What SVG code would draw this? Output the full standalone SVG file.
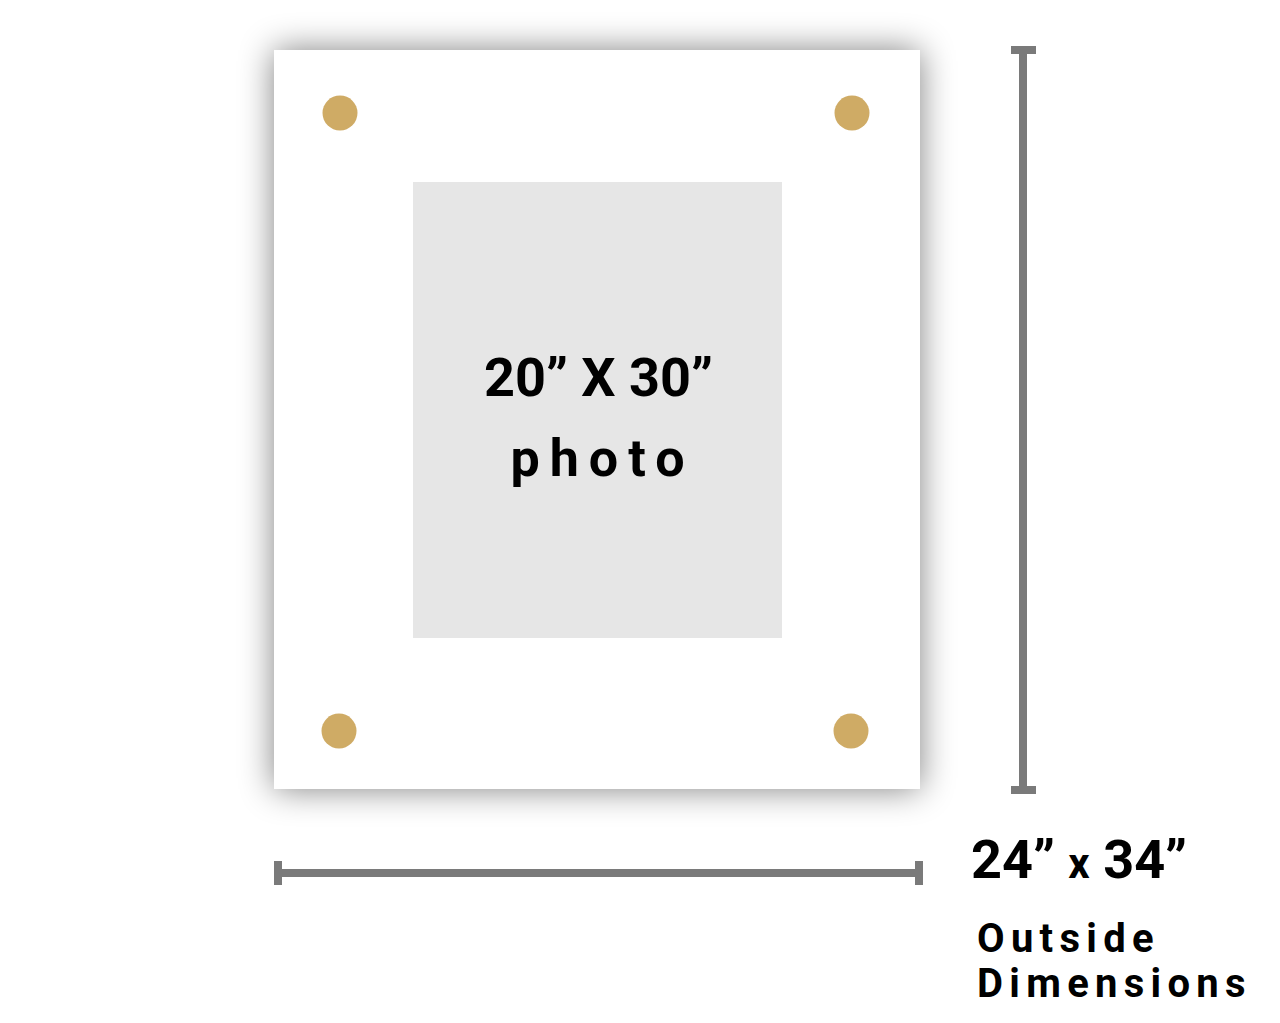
<svg xmlns="http://www.w3.org/2000/svg" width="1280" height="1023" viewBox="0 0 1280 1023">
<defs>
<filter id="sh" x="-20%" y="-20%" width="140%" height="140%">
<feGaussianBlur in="SourceAlpha" stdDeviation="17"/>
<feOffset dx="0" dy="0"/>
<feComponentTransfer><feFuncA type="linear" slope="0.5"/></feComponentTransfer>
<feMerge><feMergeNode/><feMergeNode in="SourceGraphic"/></feMerge>
</filter>
</defs>
<style>
.dot{fill:#cfab65}
.bar{fill:#7a7a7a}
.t{font-family:Roboto,"Liberation Sans",sans-serif;font-weight:bold;fill:#000}
</style>
<rect width="1280" height="1023" fill="#fff"/>
<g id="panel">
<rect x="274" y="50" width="646" height="739" fill="#fff" filter="url(#sh)"/>
<circle class="dot" cx="340" cy="113" r="17.5"/>
<circle class="dot" cx="852" cy="113" r="17.5"/>
<circle class="dot" cx="339" cy="731" r="17.5"/>
<circle class="dot" cx="851" cy="731" r="17.5"/>
</g>
<g id="photo">
<rect x="413" y="182" width="369" height="456" fill="#e6e6e6"/>
<text class="t" x="598.5" y="396" font-size="54" text-anchor="middle">20” X 30”</text>
<text class="t" x="602.5" y="476" font-size="52" text-anchor="middle" letter-spacing="10">photo</text>
</g>
<g id="dimensions">
<rect class="bar" x="1019" y="50" width="8" height="740"/>
<rect class="bar" x="1011" y="46" width="25" height="8"/>
<rect class="bar" x="1011" y="786" width="25" height="8"/>
<rect class="bar" x="278" y="869" width="642" height="8"/>
<rect class="bar" x="274" y="861" width="8" height="24"/>
<rect class="bar" x="915" y="861" width="8" height="24"/>
<text class="t" x="971" y="878" font-size="54">24” <tspan font-size="42">x</tspan> 34”</text>
<text class="t" x="977" y="952" font-size="40" letter-spacing="6.3">Outside</text>
<text class="t" x="977" y="997" font-size="40" letter-spacing="6.3">Dimensions</text>
</g>
</svg>
